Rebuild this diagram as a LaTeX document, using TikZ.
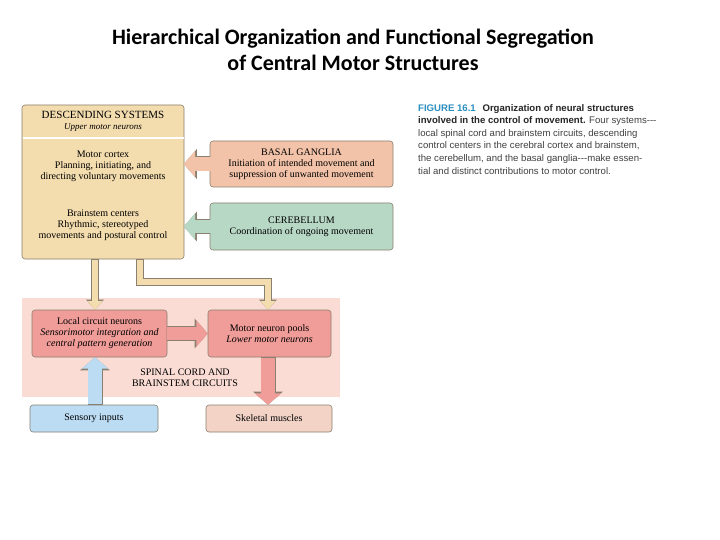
\documentclass[tikz,border=0pt]{standalone}
\usepackage{fontspec}
\setmainfont{Liberation Serif}
\newfontfamily\titlefont{Carlito}
\newfontfamily\capfont{Liberation Sans}
\usetikzlibrary{arrows.meta,positioning}
\definecolor{tan}{HTML}{F3DCAE}
\definecolor{bgc}{HTML}{F3C3A9}
\definecolor{cbc}{HTML}{B8D8C6}
\definecolor{band}{HTML}{FADCD4}
\definecolor{red1}{HTML}{F09C98}
\definecolor{blu}{HTML}{BBDCF3}
\definecolor{skm}{HTML}{F2D3C6}
\definecolor{edge}{HTML}{8A8070}
\definecolor{capblue}{HTML}{2A8FC0}
\tikzset{
 box/.style={draw=edge,line width=0.6pt,rounded corners=3pt,inner sep=1pt,align=center,font=\fontsize{10}{11}\selectfont},
 fatout/.style={line width=15pt,draw=edge,-{Triangle[width=29pt,length=13pt]}},
 fatin/.style={line width=13.4pt,-{Triangle[width=26pt,length=11.4pt]}},
 thinout/.style={line width=7.5pt,draw=edge,-{Triangle[width=17pt,length=10pt]}},
 thinin/.style={line width=6pt,-{Triangle[width=14.6pt,length=8.6pt]}},
}
\begin{document}
\begin{tikzpicture}[x=1pt,y=-1pt]
\useasboundingbox[fill=white] (0,0) rectangle (720,540);
\node[font=\titlefont\bfseries\fontsize{22}{26}\selectfont,align=center] (title) at (353,50) {Hierarchical Organization and Functional Segregation\\of Central Motor Structures};
% band
\fill[band] (22,298) rectangle (340,397);
% descending
\node[box,fill=tan,minimum width=162pt,minimum height=154pt] (desc) at (103,182) {};
\draw[white,line width=1.2pt] (22.5,138) -- (183.5,138);
\node[font=\fontsize{11}{12}\selectfont,align=center] (dtitle) at (103,121) {DESCENDING SYSTEMS\\[-1pt]\textit{\fontsize{9}{10}\selectfont Upper motor neurons}};
\node[font=\fontsize{10}{11}\selectfont,align=center] (mc) at (103,166) {Motor cortex\\Planning, initiating, and\\directing voluntary movements};
\node[font=\fontsize{10}{11}\selectfont,align=center] (bs) at (103,225) {Brainstem centers\\Rhythmic, stereotyped\\movements and postural control};
\node[box,fill=bgc,minimum width=183pt,minimum height=46pt] (bgn) at (301.5,164) {BASAL GANGLIA\\Initiation of intended movement and\\suppression of unwanted movement};
\node[box,fill=cbc,minimum width=183pt,minimum height=47pt] (cbn) at (301.5,226.5) {CEREBELLUM\\Coordination of ongoing movement};
\node[box,fill=red1,minimum width=135pt,minimum height=47pt] (lc) at (99.5,333.5) {Local circuit neurons\\\textit{Sensorimotor integration and}\\\textit{central pattern generation}};
\node[box,fill=red1,minimum width=123pt,minimum height=47pt] (mp) at (269.5,333.5) {Motor neuron pools\\\textit{Lower motor neurons}};
\node[align=center,font=\fontsize{10}{11}\selectfont] (sc) at (185,378) {SPINAL CORD AND\\BRAINSTEM CIRCUITS};
\node[box,fill=blu,minimum width=128pt,minimum height=27pt] (si) at (94,418.5) {Sensory inputs};
\node[box,fill=skm,minimum width=126pt,minimum height=27pt] (sk) at (269,418.5) {Skeletal muscles};
% fat arrows
\draw[fatout] (bgn.west) -- ([xshift=-0.5pt]desc.east |- bgn.west);
\draw[fatin,draw=bgc] ([xshift=0.8pt]bgn.west) -- ([xshift=-0.5pt]desc.east |- bgn.west);
\draw[fatout] (cbn.west) -- ([xshift=-0.5pt]desc.east |- cbn.west);
\draw[fatin,draw=cbc] ([xshift=0.8pt]cbn.west) -- ([xshift=-0.5pt]desc.east |- cbn.west);
\draw[fatout] (lc.east) -- (mp.west);
\draw[fatin,draw=red1] ([xshift=-0.8pt]lc.east) -- (mp.west);
\coordinate (mpb) at ([xshift=-1.5pt]mp.south);
\draw[fatout] (mpb) -- (mpb |- sk.north);
\draw[fatin,draw=red1] ([yshift=-0.8pt]mpb) -- (mpb |- sk.north);
\coordinate (siu) at ([xshift=1pt]si.north);
\draw[fatout] (siu) -- (siu |- lc.south);
\draw[fatin,draw=blu] ([yshift=0.8pt]siu) -- (siu |- lc.south);
% descending arrows
\coordinate (d1) at (95,259);
\draw[thinout] (d1) -- (d1 |- lc.north);
\draw[thinin,draw=tan] ([yshift=-1pt]d1) -- (d1 |- lc.north);
\coordinate (d2) at (140,259);
\coordinate (d3) at ([xshift=-1.5pt]mp.north);
\draw[thinout,line join=miter] (d2) |- (d3 |- 0,282) -- (d3);
\draw[thinin,draw=tan,line join=miter] ([yshift=-1pt]d2) |- (d3 |- 0,282) -- (d3);
% caption
\node[anchor=north west,align=left,font=\capfont\fontsize{9.6}{12.6}\selectfont,text=black!75,inner sep=0pt] (cap) at (418,104) {{\color{capblue}\bfseries FIGURE 16.1}\hspace{0.7em}{\bfseries\color{black!85}Organization of neural structures}\\
{\bfseries\color{black!85}involved in the control of movement.} Four systems---\\
local spinal cord and brainstem circuits, descending\\
control centers in the cerebral cortex and brainstem,\\
the cerebellum, and the basal ganglia---make essen-\\
tial and distinct contributions to motor control.};
\end{tikzpicture}
\end{document}
